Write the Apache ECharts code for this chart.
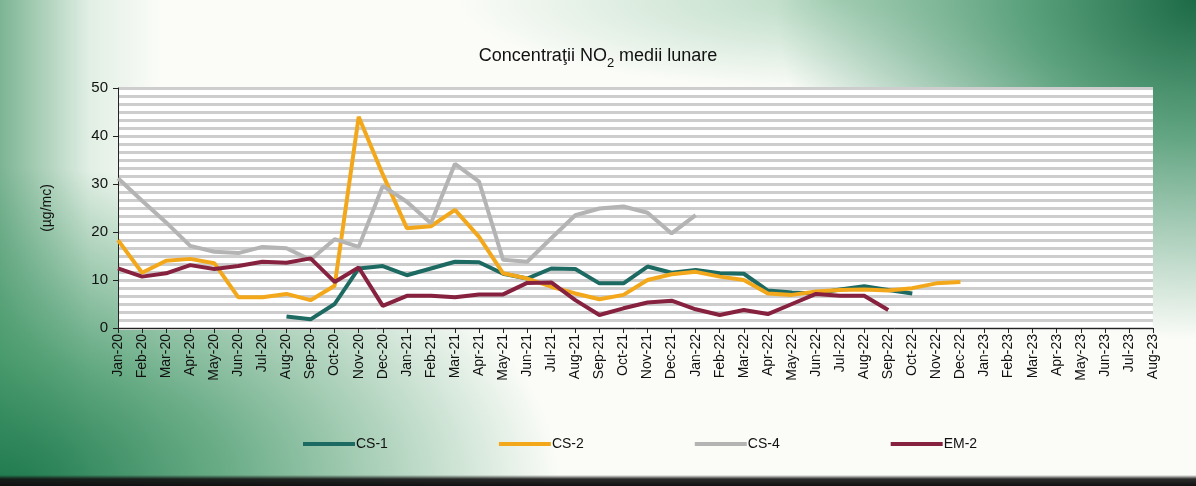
<!DOCTYPE html>
<html style="height: 100%">
<head>
    <meta charset="utf-8">
    <script src="https://cdn.jsdelivr.net/npm/echarts@6/dist/echarts.min.js"></script>
    <style>
        html, body { margin: 0; padding: 0; }
        body {
            width: 1196px; height: 486px; overflow: hidden;
            background:
                linear-gradient(to bottom, transparent 0, transparent 475px, rgba(20,20,20,0.9) 479px, #111 486px),
                radial-gradient(ellipse 560px 320px at 0% 100%, #1f7a4e 0%, rgba(55,145,95,0.75) 40%, rgba(120,190,150,0) 100%),
                radial-gradient(ellipse 420px 340px at 100% 0%, #1c6a46 0%, rgba(45,135,90,0.75) 40%, rgba(120,190,150,0) 100%),
                linear-gradient(to right, rgba(70,150,105,0.7) 0, rgba(150,200,170,0.25) 90px, rgba(255,255,255,0) 160px),
                radial-gradient(ellipse 380px 90px at 70% 0%, rgba(120,185,145,0.5) 0%, rgba(255,255,255,0) 100%),
                #fbfcf8;
        }
    </style>
</head>
<body>
    <div id="container" style="width: 1196px; height: 486px"></div>
    <script type="text/javascript">
        var months = ['Jan-20', 'Feb-20', 'Mar-20', 'Apr-20', 'May-20', 'Jun-20', 'Jul-20', 'Aug-20', 'Sep-20', 'Oct-20', 'Nov-20', 'Dec-20',
            'Jan-21', 'Feb-21', 'Mar-21', 'Apr-21', 'May-21', 'Jun-21', 'Jul-21', 'Aug-21', 'Sep-21', 'Oct-21', 'Nov-21', 'Dec-21',
            'Jan-22', 'Feb-22', 'Mar-22', 'Apr-22', 'May-22', 'Jun-22', 'Jul-22', 'Aug-22', 'Sep-22', 'Oct-22', 'Nov-22', 'Dec-22',
            'Jan-23', 'Feb-23', 'Mar-23', 'Apr-23', 'May-23', 'Jun-23', 'Jul-23', 'Aug-23'];

        var cs1 = [null, null, null, null, null, null, null,
            2.4, 1.8, 5.0, 12.4, 12.9, 11.0, 12.4, 13.8, 13.7, 11.3, 10.3, 12.4, 12.3, 9.3, 9.3, 12.8, 11.5,
            12.1, 11.4, 11.3, 7.8, 7.4, 7.2, 8.0, 8.7, 7.9, 7.2,
            null, null, null, null, null, null, null, null, null, null];

        var cs2 = [18.3, 11.5, 14.0, 14.4, 13.5, 6.4, 6.4, 7.1, 5.8, 8.8, 44.0, 32.0,
            20.8, 21.2, 24.6, 19.0, 11.4, 10.3, 8.6, 7.2, 6.0, 6.9, 10.0, 11.2,
            11.7, 10.7, 10.0, 7.2, 6.9, 7.6, 7.9, 8.0, 7.8, 8.3, 9.3, 9.6,
            null, null, null, null, null, null, null, null];

        var cs4 = [31.2, 26.5, 22.0, 17.1, 15.9, 15.6, 16.9, 16.6, 14.2, 18.5, 16.9, 29.6,
            26.3, 21.8, 34.2, 30.5, 14.2, 13.8, 18.7, 23.5, 24.9, 25.3, 24.0, 19.7,
            23.5, null, null, null, null, null, null, null, null, null, null, null,
            null, null, null, null, null, null, null, null];

        var em2 = [12.4, 10.7, 11.4, 13.1, 12.3, 12.9, 13.8, 13.6, 14.5, 9.6, 12.6, 4.6,
            6.7, 6.7, 6.4, 7.0, 7.0, 9.4, 9.5, 5.8, 2.7, 4.1, 5.3, 5.7,
            3.9, 2.7, 3.75, 2.9, 5.0, 7.1, 6.7, 6.7, 3.75, null, null, null,
            null, null, null, null, null, null, null, null];

        var seriesNames = ['CS-1', 'CS-2', 'CS-4', 'EM-2'];
        var seriesColors = ['#1d6a62', '#f3a81c', '#b4b4b4', '#86223f'];
        var seriesData = [cs1, cs2, cs4, em2];

        var font = '"Liberation Sans", Arial, sans-serif';
        var dom = document.getElementById("container");
        var myChart = echarts.init(dom, null, { renderer: 'canvas' });

        var series = [];
        for (var i = 0; i < seriesNames.length; i++) {
            series.push({
                name: seriesNames[i],
                type: 'line',
                data: seriesData[i],
                symbol: 'none',
                connectNulls: false,
                lineStyle: { width: 4, color: seriesColors[i] },
                itemStyle: { color: seriesColors[i] }
            });
        }

        var option = {
            backgroundColor: 'transparent',
            animation: false,
            color: seriesColors,
            textStyle: { fontFamily: font },
            title: {
                text: '{a|Concentraţii NO}{s|2}{a| medii lunare}',
                left: 'center',
                top: 42,
                textStyle: {
                    fontWeight: 'normal',
                    rich: {
                        a: { fontSize: 18, color: '#111', fontWeight: 'normal', fontFamily: font, verticalAlign: 'top', lineHeight: 22 },
                        s: { fontSize: 13, color: '#111', fontWeight: 'normal', fontFamily: font, verticalAlign: 'top', padding: [10, 0, 0, 0] }
                    }
                }
            },
            legend: {
                left: 298,
                top: 432,
                icon: 'rect',
                itemWidth: 52,
                itemHeight: 4,
                itemGap: 111,
                textStyle: { fontSize: 14, color: '#111', fontFamily: font, padding: [0, 0, 0, -4] },
                data: seriesNames
            },
            grid: {
                left: 118,
                right: 43,
                top: 88,
                bottom: 158,
                show: true,
                backgroundColor: '#ffffff',
                borderWidth: 0
            },
            xAxis: {
                type: 'category',
                data: months,
                boundaryGap: false,
                axisLine: { lineStyle: { color: '#222', width: 1 } },
                axisTick: { show: true, alignWithLabel: true, length: 5, lineStyle: { color: '#222' } },
                axisLabel: { rotate: 90, interval: 0, fontSize: 14, color: '#111', margin: 6, fontFamily: font },
                splitLine: { show: false }
            },
            yAxis: {
                type: 'value',
                min: 0,
                max: 50,
                interval: 10,
                name: '(µg/mc)',
                nameLocation: 'middle',
                nameGap: 64,
                nameTextStyle: { fontSize: 14, color: '#111', fontFamily: font },
                axisLine: { show: true, lineStyle: { color: '#222', width: 1 } },
                axisTick: { show: true, length: 5, lineStyle: { color: '#222' } },
                axisLabel: { fontSize: 15, color: '#111', margin: 10, fontFamily: font },
                splitLine: { show: true, lineStyle: { color: '#cdcdcd', width: 3 } },
                minorTick: { show: false, splitNumber: 6 },
                minorSplitLine: { show: true, lineStyle: { color: '#cdcdcd', width: 3 } }
            },
            series: series
        };
        myChart.setOption(option);
    </script>
</body>
</html>
